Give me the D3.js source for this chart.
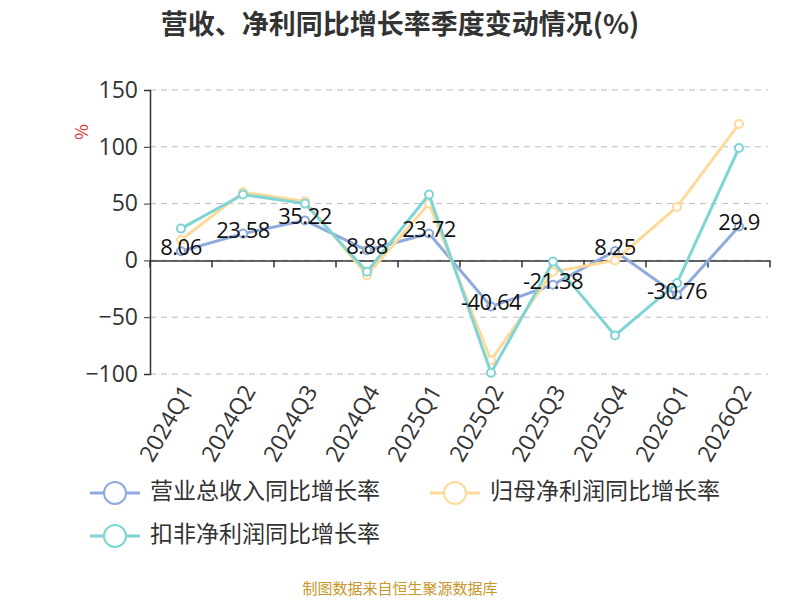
<!DOCTYPE html>
<html><head><meta charset="utf-8">
<script src="https://cdn.jsdelivr.net/npm/d3@7"></script>
<style>body{margin:0;background:#fff;font-family:"Noto Sans CJK SC","Noto Sans",sans-serif}</style>
</head><body><svg id="c" width="800" height="600"></svg>
<script>
const quarters = ['2024Q1','2024Q2','2024Q3','2024Q4','2025Q1','2025Q2','2025Q3','2025Q4','2026Q1','2026Q2'];
const revenue = [8.06, 23.58, 35.22, 8.88, 23.72, -40.64, -21.38, 8.25, -30.76, 29.9];
const netProfit = [18, 60, 52, -13, 50, -88, -10, 0, 47, 120];
const deductedProfit = [28, 58, 50, -10, 58, -99, -1, -66, -20, 99];
const yTicks = [-100, -50, 0, 50, 100, 150];

const series = [
  {name: '营业总收入同比增长率', values: revenue, color: '#8faadc'},
  {name: '归母净利润同比增长率', values: netProfit, color: '#fdd99a'},
  {name: '扣非净利润同比增长率', values: deductedProfit, color: '#7fd4d6'}
];

const svg = d3.select('#c');
const x = d3.scaleBand().domain(quarters).range([150, 770]);
const y = d3.scaleLinear().domain([-100, 150]).range([374, 90]);

svg.append('text').attr('x', 400).attr('y', 34).attr('text-anchor', 'middle')
  .attr('font-size', 27).attr('font-weight', 'bold').attr('fill', '#333')
  .text('营收、净利同比增长率季度变动情况(%)');

svg.append('g').selectAll('line').data(yTicks).enter().append('line')
  .attr('x1', 150).attr('x2', 768).attr('y1', d => y(d)).attr('y2', d => y(d))
  .attr('stroke', '#bbb').attr('stroke-dasharray', '6,5');

const yAxis = svg.append('g').attr('transform', 'translate(150,0)')
  .call(d3.axisLeft(y).tickValues(yTicks).tickSize(6).tickPadding(6));
yAxis.select('.domain').attr('stroke', '#333').attr('stroke-width', 1.5);
yAxis.selectAll('.tick line').attr('stroke', '#333');
yAxis.selectAll('text').attr('font-size', 23).attr('fill', '#333').attr('font-family', '"Open Sans",sans-serif');

const xAxis = svg.append('g').attr('transform', 'translate(0,' + y(0) + ')')
  .call(d3.axisBottom(x).tickSizeOuter(0).tickSize(0));
xAxis.select('.domain').attr('stroke', '#333').attr('stroke-width', 1.5);
xAxis.selectAll('.tick text').remove();
svg.append('g').selectAll('line').data(d3.range(quarters.length + 1)).enter().append('line')
  .attr('x1', i => 150 + i * x.step()).attr('x2', i => 150 + i * x.step())
  .attr('y1', y(0)).attr('y2', y(0) + 7).attr('stroke', '#333').attr('stroke-width', 1.5);

svg.append('g').selectAll('text').data(quarters).enter().append('text')
  .attr('transform', d => 'translate(' + (x(d) + x.bandwidth() / 2 + 8) + ',388) rotate(-60)')
  .attr('text-anchor', 'end').attr('dominant-baseline', 'middle')
  .attr('font-size', 23).attr('fill', '#333').attr('font-family', '"Open Sans",sans-serif')
  .text(d => d);

svg.append('text').attr('transform', 'translate(88,132) rotate(-90)')
  .attr('text-anchor', 'middle').attr('font-size', 17).attr('fill', '#e03030').text('%');

const cx = (d, i) => x(quarters[i]) + x.bandwidth() / 2;
const line = d3.line().x(cx).y(d => y(d));

series.forEach(s => {
  const g = svg.append('g');
  g.append('path').attr('d', line(s.values)).attr('fill', 'none')
    .attr('stroke', s.color).attr('stroke-width', 3);
  g.selectAll('circle').data(s.values).enter().append('circle')
    .attr('cx', cx).attr('cy', d => y(d)).attr('r', 4)
    .attr('fill', '#fff').attr('stroke', s.color).attr('stroke-width', 2);
});

svg.append('g').selectAll('text').data(revenue).enter().append('text')
  .attr('x', cx).attr('y', d => y(d) - 2).attr('text-anchor', 'middle')
  .attr('dominant-baseline', 'middle').attr('font-size', 22).attr('fill', '#111')
  .attr('font-family', '"Open Sans",sans-serif').attr('letter-spacing', -0.5)
  .text(d => d);

const legendPos = [[90, 493], [430, 493], [90, 536]];
series.forEach((s, i) => {
  const [lx, ly] = legendPos[i];
  const g = svg.append('g').attr('transform', 'translate(' + lx + ',' + ly + ')');
  g.append('line').attr('x1', 0).attr('x2', 50).attr('stroke', s.color).attr('stroke-width', 3);
  g.append('circle').attr('cx', 25).attr('r', 11).attr('fill', '#fff')
    .attr('stroke', s.color).attr('stroke-width', 2);
  g.append('text').attr('x', 60).attr('dominant-baseline', 'middle')
    .attr('font-size', 23).attr('fill', '#333').text(s.name);
});

svg.append('text').attr('x', 400).attr('y', 594).attr('text-anchor', 'middle')
  .attr('font-size', 15).attr('fill', '#c8962a').text('制图数据来自恒生聚源数据库');
</script></body></html>
